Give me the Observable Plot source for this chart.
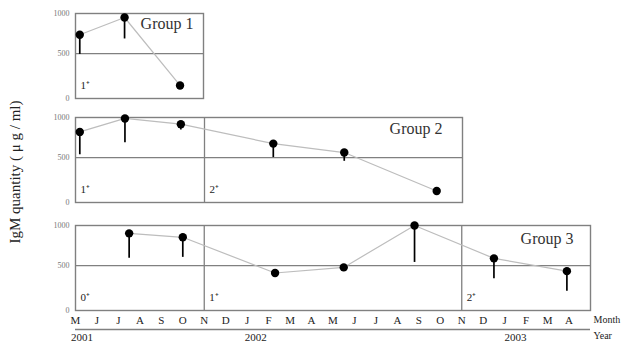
<!DOCTYPE html>
<html><head><meta charset="utf-8">
<script src="https://cdn.jsdelivr.net/npm/d3@7"></script>
<script src="https://cdn.jsdelivr.net/npm/@observablehq/plot@0.6"></script>
<style>
body{margin:0;background:#fff;}
#chart{position:relative;width:626px;height:351px;font-family:"Liberation Serif",serif;}
#chart svg{position:absolute;left:0;overflow:visible;background:transparent;}
</style></head><body><div id="chart"></div>
<script>
// month index 0 = May 2001
const monthLabels = ["M","J","J","A","S","O","N","D","J","F","M","A","M","J","J","A","S","O","N","D","J","F","M","A"];
const yearLabels = ["2001","2002","2003"];
const yearAt = [0.3, 8.4, 20.5];
const yTicks = [0, 500, 1000];

// Group 1
const g1Month = [0.2, 2.3, 4.9];
const g1Value = [731, 949, 130];
const g1Low   = [490, 679, null];
const g1Ages  = ["1⁺"];
const g1AgeAt = [0];

// Group 2
const g2Month = [0.2, 2.3, 4.9, 9.2, 12.5, 16.8];
const g2Value = [817, 988, 915, 671, 561, 114];
const g2Low   = [534, 683, 841, 500, 455, null];
const g2Ages  = ["1⁺", "2⁺"];
const g2AgeAt = [0, 6];

// Group 3
const g3Month = [2.5, 5.0, 9.3, 12.5, 15.8, 19.5, 22.9];
const g3Value = [900, 850, 411, 478, 1000, 588, 433];
const g3Low   = [588, 600, null, null, 538, 344, 200];
const g3Ages  = ["0⁺", "1⁺", "2⁺"];
const g3AgeAt = [0, 6, 18];

const groups = ["Group 1", "Group 2", "Group 3"];
const yTitle = "IgM quantity ( μ g / ml)";

const ink = "#222", grid = "#808080";

function panel({months, values, lows, ages, ageAt, label, end, dividers, top, height, marginRight, labelDx, labelDy, bottomAxis, title}) {
  const rows = months.map((m, i) => ({m, v: values[i], lo: lows[i]}));
  const bars = rows.filter(d => d.lo != null);
  const marks = [
    Plot.ruleY([500], {stroke: grid, strokeWidth: 1.3}),
    Plot.ruleX(dividers, {stroke: grid, strokeWidth: 1.3}),
    Plot.frame({stroke: grid, strokeWidth: 1.4}),
    Plot.axisY(yTicks, {tickSize: 0, tickPadding: 6, fontSize: 8, fill: "#777", tickFormat: d => String(d), label: null}),
    Plot.line(rows, {x: "m", y: "v", stroke: "#bdbdbd", strokeWidth: 1.2}),
    Plot.ruleX(bars, {x: "m", y1: "v", y2: "lo", stroke: "#000", strokeWidth: 1.7}),
    Plot.dot(rows, {x: "m", y: "v", r: 4.2, fill: "#000", stroke: "none"}),
    Plot.text(ages, {x: (d, i) => ageAt[i], frameAnchor: "bottom", dx: 5, dy: -10, textAnchor: "start", fontSize: 11, fill: ink}),
    Plot.text([label], {frameAnchor: "top-right", dx: labelDx, dy: labelDy, lineAnchor: "top", fontSize: 16, fill: "#333"})
  ];
  if (title) {
    marks.push(Plot.text([title], {frameAnchor: "left", textAnchor: "middle", rotate: -90, dx: -60, dy: 12, fontSize: 15, fill: ink}));
  }
  if (bottomAxis) {
    marks.push(
      Plot.axisX(d3.range(monthLabels.length), {tickSize: 0, tickPadding: 6, fontSize: 11, fill: "#222", tickFormat: i => monthLabels[i], label: null}),
      Plot.ruleY([0], {dy: 19, stroke: grid, strokeWidth: 1.3}),
      Plot.text(yearLabels, {x: (d, i) => yearAt[i], frameAnchor: "bottom", dy: 30, fontSize: 11, fill: ink}),
      Plot.text(["Month"], {frameAnchor: "bottom-right", dx: 3, dy: 12, textAnchor: "start", fontSize: 10, fill: ink}),
      Plot.text(["Year"], {frameAnchor: "bottom-right", dx: 3, dy: 28, textAnchor: "start", fontSize: 10, fill: ink})
    );
  }
  const svg = Plot.plot({
    width: 626, height,
    marginLeft: 75, marginRight, marginTop: 13, marginBottom: height - 98,
    style: {fontFamily: '"Liberation Serif", serif', background: "transparent", overflow: "visible"},
    x: {domain: [0, end], axis: null, label: null},
    y: {type: "pow", exponent: 0.92, domain: [0, 1000], axis: null, label: null},
    marks
  });
  svg.style.top = top + "px";
  document.getElementById("chart").appendChild(svg);
}

panel({months: g1Month, values: g1Value, lows: g1Low, ages: g1Ages, ageAt: g1AgeAt, label: groups[0],
  end: 6, dividers: [], top: 0, height: 100, marginRight: 423, labelDx: -10, labelDy: 4});
panel({months: g2Month, values: g2Value, lows: g2Low, ages: g2Ages, ageAt: g2AgeAt, label: groups[1],
  end: 18, dividers: [6], top: 104, height: 100, marginRight: 164, labelDx: -20, labelDy: 5, title: yTitle});
panel({months: g3Month, values: g3Value, lows: g3Low, ages: g3Ages, ageAt: g3AgeAt, label: groups[2],
  end: 24, dividers: [6, 18], top: 212, height: 139, marginRight: 36, labelDx: -17, labelDy: 7, bottomAxis: true});
</script>
</body></html>
